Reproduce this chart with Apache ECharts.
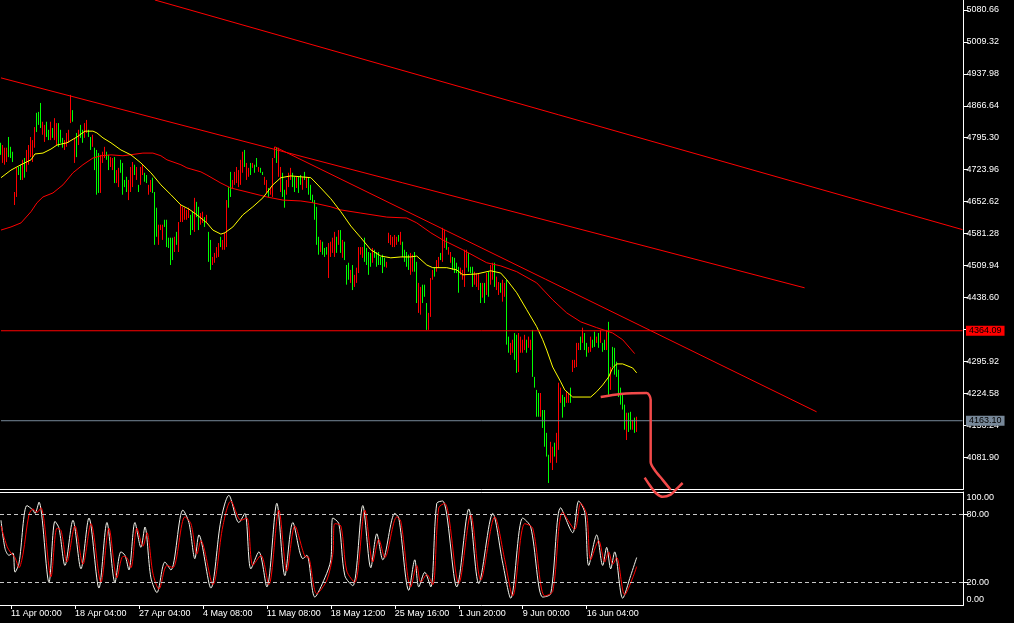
<!DOCTYPE html>
<html>
<head>
<meta charset="utf-8">
<title>chart</title>
<script src="https://cdn.jsdelivr.net/npm/echarts@6/dist/echarts.min.js"></script>
<style>
html, body { margin:0; padding:0; background:#000; }
#main { width:1014px; height:623px; }
</style>
</head>
<body>
<div id="main"></div>
<script>
// one bar every 2px, high / low
var highs = [
 4784,4779,4773,4773,4797,4775,4764,4674,4728,4730,
 4735,4746,4750,4768,4779,4797,4790,4819,4851,4853,
 4873,4831,4824,4831,4813,4831,4817,4839,4828,4828,
 4813,4795,4790,4806,4813,4891,4857,4795,4806,4813,
 4824,4813,4828,4835,4813,4797,4802,4773,4768,4761,
 4757,4764,4775,4764,4757,4752,4750,4752,4723,4728,
 4746,4739,4701,4708,4701,4730,4741,4735,4730,4690,
 4730,4735,4717,4712,4690,4701,4706,4674,4639,4601,
 4601,4601,4612,4612,4572,4572,4572,4574,4585,4607,
 4645,4641,4639,4634,4639,4623,4630,4661,4652,4641,
 4627,4630,4618,4623,4585,4567,4529,4538,4551,4560,
 4574,4567,4583,4656,4685,4719,4701,4719,4730,4723,
 4746,4764,4768,4739,4728,4739,4739,4735,4750,4730,
 4728,4719,4708,4701,4683,4685,4750,4775,4773,4773,
 4730,4717,4679,4701,4717,4728,4717,4708,4708,4708,
 4712,4708,4719,4708,4706,4690,4668,4656,4641,4574,
 4567,4563,4549,4551,4560,4563,4572,4585,4574,4589,
 4589,4567,4563,4511,4516,4500,4511,4489,4505,4551,
 4551,4551,4572,4549,4540,4538,4549,4545,4540,4540,
 4529,4534,4527,4518,4583,4578,4574,4578,4574,4578,
 4585,4563,4545,4540,4534,4538,4534,4540,4518,4471,
 4462,4467,4467,4426,4404,4482,4500,4505,4522,4529,
 4538,4594,4589,4572,4551,4540,4529,4527,4516,4507,
 4505,4500,4545,4545,4538,4507,4507,4496,4493,4493,
 4471,4471,4471,4493,4496,4511,4516,4516,4485,4473,
 4471,4478,4471,4478,4351,4337,4344,4359,4355,4359,
 4351,4344,4355,4344,4351,4344,4366,4261,4232,4225,
 4225,4187,4187,4136,4087,4116,4105,4114,4136,4248,
 4237,4221,4216,4228,4225,4237,4299,4299,4337,4337,
 4351,4371,4359,4337,4328,4351,4344,4362,4351,4359,
 4366,4337,4344,4366,4384,4283,4328,4326,4295,4277,
 4237,4225,4199,4181,4181,4183,4165,4170,4172
];
var lows = [
 4757,4739,4735,4741,4752,4750,4741,4645,4663,4712,
 4701,4701,4706,4719,4735,4752,4741,4773,4808,4824,
 4817,4802,4786,4797,4790,4790,4795,4790,4779,4775,
 4784,4773,4768,4775,4784,4828,4831,4739,4752,4779,
 4795,4784,4795,4806,4797,4768,4775,4723,4668,4672,
 4672,4739,4750,4746,4723,4730,4723,4694,4694,4685,
 4717,4668,4685,4674,4656,4674,4685,4712,4701,4674,
 4690,4712,4697,4694,4668,4674,4672,4556,4574,4556,
 4589,4567,4596,4551,4549,4511,4522,4540,4556,4540,
 4607,4607,4612,4612,4616,4578,4589,4585,4618,4589,
 4601,4605,4596,4607,4518,4500,4511,4516,4527,4529,
 4551,4545,4545,4551,4639,4663,4683,4690,4694,4685,
 4690,4717,4730,4701,4708,4712,4728,4717,4730,4719,
 4717,4712,4690,4672,4663,4668,4663,4750,4739,4708,
 4674,4663,4639,4668,4685,4701,4685,4674,4683,4672,
 4690,4679,4701,4683,4668,4656,4650,4612,4556,4534,
 4540,4534,4529,4534,4482,4529,4538,4529,4538,4556,
 4538,4527,4522,4467,4478,4471,4455,4462,4471,4493,
 4534,4527,4518,4511,4489,4507,4516,4527,4507,4511,
 4511,4493,4507,4505,4560,4556,4551,4551,4556,4563,
 4556,4529,4518,4507,4500,4489,4496,4496,4426,4404,
 4400,4426,4440,4366,4366,4395,4478,4485,4496,4505,
 4522,4518,4549,4545,4534,4516,4500,4493,4493,4449,
 4489,4478,4462,4505,4496,4493,4462,4467,4462,4455,
 4426,4438,4426,4444,4440,4467,4478,4462,4455,4444,
 4449,4429,4440,4333,4315,4310,4315,4299,4270,4272,
 4315,4315,4321,4315,4326,4321,4261,4237,4172,4172,
 4172,4147,4105,4083,4024,4069,4053,4083,4069,4098,
 4203,4170,4194,4203,4203,4203,4272,4281,4283,4321,
 4321,4337,4321,4306,4315,4317,4326,4328,4337,4326,
 4337,4317,4321,4321,4221,4232,4283,4266,4261,4216,
 4199,4188,4143,4120,4138,4143,4143,4136,4138
];
// r = rising bar (drawn red), g = falling bar (drawn green)
var dirs = 'grrrgggrrg' + 'grgrrrrrgg' + 'grrggrgrrg' + 'ggrrrrgrgr' + 'ggrrggrggg' +
  'rrrggrrgrr' + 'ggggrrrgrg' + 'rrggrrgggr' + 'rrgggggrgr' + 'rrrrrggrgg' +
  'rrgrggrrrr' + 'grrrggrrrr' + 'rrgrrgrggr' + 'ggrrgrrrgr' + 'rggrrrggrg' +
  'grgrgggggg' + 'rgggrrrrgr' + 'grgggrgrrr' + 'rrggggrggg' + 'gggrrrrrrg' +
  'rggggrrggr' + 'rgggrrrgrr' + 'grrgrrgggg' + 'rrrrgggrrr' + 'grgrgrrgrr' +
  'grrggrrggr' + 'rrrgrrgggg' + 'rggggrrgrr' + 'rggrrgrrrr' + 'grggrrggrg' +
  'rggrgrgggg' + 'gggrggrgr';

// moving averages, [bar, price]
var maFast = [[0,4706],[5,4723],[10,4735],[15,4746],[17,4759],[21,4761],[25,4770],[28,4779],[33,4784],
  [38,4797],[42,4810],[46,4810],[48,4806],[51,4795],[55,4784],[60,4768],[65,4757],[70,4739],[75,4717],
  [80,4690],[85,4668],[90,4645],[94,4636],[98,4623],[103,4605],[106,4589],[110,4580],[112,4583],
  [116,4596],[121,4623],[126,4641],[131,4661],[136,4690],[140,4706],[145,4710],[150,4708],[155,4706],
  [160,4683],[165,4659],[170,4630],[175,4598],[180,4572],[185,4545],[190,4531],[195,4527],[200,4529],
  [205,4529],[208,4531],[213,4511],[216,4505],[223,4505],[228,4500],[231,4489],[238,4491],[245,4498],
  [250,4493],[253,4478],[258,4449],[263,4411],[268,4373],[271,4344],[273,4321],[276,4283],[280,4250],
  [282,4232],[286,4216],[295,4216],[298,4228],[301,4243],[304,4261],[306,4281],[308,4290],[311,4290],
  [316,4281],[318,4270]];
var maSlow = [[0,4589],[5,4596],[10,4605],[15,4630],[18,4650],[21,4663],[26,4672],[31,4690],[36,4717],
  [41,4735],[46,4750],[50,4755],[55,4757],[61,4755],[71,4761],[76,4761],[80,4755],[83,4746],[90,4735],
  [93,4728],[100,4719],[103,4712],[110,4694],[115,4683],[125,4672],[133,4663],[141,4656],[150,4654],
  [156,4650],[165,4641],[170,4634],[180,4627],[193,4618],[203,4616],[208,4605],[215,4583],[221,4567],
  [231,4545],[243,4516],[250,4509],[258,4496],[268,4471],[276,4433],[283,4404],[290,4384],[298,4371],
  [306,4359],[311,4344],[317,4313]];

// stochastic main / signal, [bar, value]
var stochK = [[0,75],[2,50],[4,44],[6,46],[7,29],[9,37],[13,88],[16,84],[17,81],[19,91],[24,20],[27,74],
  [29,68],[32,35],[36,75],[40,32],[44,77],[49,15],[53,73],[57,20],[60,47],[62,44],[64,31],[67,73],[70,51],
  [72,69],[75,24],[78,11],[82,38],[85,31],[91,84],[94,73],[97,41],[99,62],[105,15],[110,75],[114,97],
  [119,73],[122,81],[125,32],[129,47],[133,16],[138,90],[142,26],[146,73],[151,41],[153,44],[157,7],
  [162,24],[165,40],[166,77],[169,72],[172,26],[176,17],[181,88],[185,33],[188,63],[191,40],[197,81],
  [199,77],[204,13],[207,40],[209,16],[212,29],[215,16],[218,90],[221,92],[228,16],[234,85],[239,19],
  [246,81],[251,37],[255,6],[261,77],[265,69],[271,7],[275,10],[280,86],[286,64],[289,92],[292,82],
  [294,35],[298,62],[301,35],[303,51],[305,32],[307,47],[311,6],[315,26],[318,42]];
var stochD = [[0,70],[3,52],[5,46],[7,42],[9,33],[11,45],[14,80],[16,85],[18,82],[20,86],[25,25],[28,68],
  [30,66],[33,38],[37,70],[41,36],[45,72],[50,20],[54,68],[58,24],[61,43],[63,42],[65,33],[68,68],[71,52],
  [73,64],[76,28],[79,14],[83,35],[86,33],[92,78],[95,72],[98,45],[100,57],[106,18],[111,70],[115,92],
  [120,75],[123,77],[126,35],[130,44],[134,18],[139,84],[143,30],[147,70],[152,43],[154,42],[158,10],
  [163,22],[166,45],[167,72],[170,70],[173,30],[177,20],[182,84],[186,38],[189,58],[192,42],[198,78],
  [200,74],[205,16],[208,35],[210,20],[213,27],[216,18],[219,86],[222,90],[229,19],[235,80],[240,22],
  [247,78],[252,40],[256,8],[262,72],[266,68],[272,8],[276,12],[281,82],[287,67],[290,90],[293,80],
  [295,40],[299,57],[302,38],[304,47],[306,36],[308,42],[312,9],[316,24],[318,34]];
var stochLevels = [20, 80];

// trend lines and levels drawn on the chart
var trendLines = [
  [[77,5103],[481,4590]],
  [[0,4929],[402,4460]],
  [[137,4775],[408,4183]]
];
var levelRed = 4364.09;
var levelGray = 4163.10;
var sketch = [[300,4216],[310,4223],[323,4225],[325,4210],[325,4071],[327,4053],[331,4031],[335,4009]];
var sketchHook = [[322,4036],[325,4016],[328,4000],[331,3993],[335,3998],[338,4011],[341,4024]];

var tickLabels = ['11 Apr 00:00','18 Apr 04:00','27 Apr 04:00','4 May 08:00','11 May 08:00',
  '18 May 12:00','25 May 16:00','1 Jun 20:00','9 Jun 00:00','16 Jun 04:00'];
var firstTick = 5, tickStep = 32, slotCount = 482;

var cats = [];
for (var i = 0; i < slotCount; i++) cats.push(String(i));

var candles = highs.map(function (h, i) {
  var l = lows[i];
  return dirs[i] === 'r' ? [l, h, l, h] : [h, l, l, h];
});

function isTick(idx) {
  return idx >= firstTick && (idx - firstTick) % tickStep === 0 &&
    (idx - firstTick) / tickStep < tickLabels.length;
}

var font = 'Liberation Sans';
var white = '#ffffff';

// horizontal level across the whole pane, price tag on the axis
function levelSeries(value, color) {
  return {
    type: 'line', xAxisIndex: 0, yAxisIndex: 0, symbol: 'none', silent: true,
    data: [[0, value], [slotCount - 1, value]],
    lineStyle: { color: color, width: 1 },
    endLabel: { show: true, distance: 3.5, formatter: value.toFixed(2), color: '#000',
      backgroundColor: color, padding: [1, 3, 0, 3], fontSize: 9, fontFamily: font }
  };
}

var series = [
  {
    type: 'candlestick', xAxisIndex: 0, yAxisIndex: 0, data: candles,
    barWidth: 1,
    itemStyle: { color: '#ff0000', color0: '#00ff00', borderColor: '#ff0000', borderColor0: '#00ff00', borderWidth: 1 }
  },
  { type: 'line', xAxisIndex: 0, yAxisIndex: 0, data: maSlow, symbol: 'none', lineStyle: { color: '#ff0000', width: 1 } },
  { type: 'line', xAxisIndex: 0, yAxisIndex: 0, data: maFast, symbol: 'none', lineStyle: { color: '#ffff00', width: 1 } },
  levelSeries(levelRed, '#ff0000'),
  levelSeries(levelGray, '#778899')
];
trendLines.forEach(function (tl) {
  series.push({ type: 'line', xAxisIndex: 0, yAxisIndex: 0, data: tl, symbol: 'none',
    lineStyle: { color: '#ff0000', width: 1 } });
});
[sketch, sketchHook].forEach(function (s) {
  series.push({ type: 'line', xAxisIndex: 0, yAxisIndex: 0, data: s, symbol: 'none', clip: false, smooth: 0.3,
    lineStyle: { color: '#f24a4a', width: 2.5 } });
});
series.push({
  type: 'line', xAxisIndex: 1, yAxisIndex: 1, data: stochK, symbol: 'none', smooth: 0.3,
  lineStyle: { color: '#f4f4ec', width: 1 },
  markLine: {
    silent: true, symbol: ['none', 'none'], label: { show: false },
    lineStyle: { color: '#c8c8c8', type: [4, 3], width: 1 },
    data: stochLevels.map(function (v) { return { yAxis: v }; })
  }
});
series.push({ type: 'line', xAxisIndex: 1, yAxisIndex: 1, data: stochD, symbol: 'none', smooth: 0.3,
  lineStyle: { color: '#ff0000', width: 1 } });

var chart = echarts.init(document.getElementById('main'));
chart.setOption({
  animation: false,
  backgroundColor: '#000',
  grid: [
    { left: -0.5, right: 50.5, top: 0, height: 489 },
    { left: -0.5, right: 50.5, top: 492, height: 113 }
  ],
  xAxis: [
    { type: 'category', gridIndex: 0, data: cats, boundaryGap: true,
      axisLine: { show: true, lineStyle: { color: white } }, axisTick: { show: false }, axisLabel: { show: false } },
    { type: 'category', gridIndex: 1, data: cats, boundaryGap: true,
      axisLine: { show: true, lineStyle: { color: white } },
      axisTick: { show: true, alignWithLabel: true, length: 4, interval: function (idx) { return isTick(idx); }, lineStyle: { color: white } },
      axisLabel: { show: true, interval: function (idx) { return isTick(idx); }, align: 'left', margin: 4,
        color: white, fontSize: 9, fontFamily: font,
        formatter: function (v, idx) { return tickLabels[(idx - firstTick) / tickStep] || ''; } } },
    { type: 'category', gridIndex: 1, data: cats, position: 'top',
      axisLine: { show: true, lineStyle: { color: white } }, axisTick: { show: false }, axisLabel: { show: false } }
  ],
  yAxis: [
    { type: 'value', gridIndex: 0, position: 'right', min: 4010.56, max: 5102.99, interval: 71.34,
      axisLine: { show: true, lineStyle: { color: white } },
      axisTick: { show: true, length: 5, lineStyle: { color: white } },
      splitLine: { show: false },
      axisLabel: { color: white, fontSize: 9, fontFamily: font, margin: 3, showMinLabel: false, showMaxLabel: false,
        formatter: function (v) { return v.toFixed(2); } } },
    { type: 'value', gridIndex: 1, position: 'right', min: 0, max: 100,
      axisLine: { show: true, lineStyle: { color: white } },
      axisTick: { show: true, length: 5, customValues: stochLevels, lineStyle: { color: white } },
      splitLine: { show: false },
      axisLabel: { color: white, fontSize: 9, fontFamily: font, margin: 3, customValues: [4.5, 20, 80, 95.5],
        formatter: function (v) { return v > 90 ? '100.00' : (v < 10 ? '0.00' : v.toFixed(2)); } } }
  ],
  series: series
});
</script>
</body>
</html>
